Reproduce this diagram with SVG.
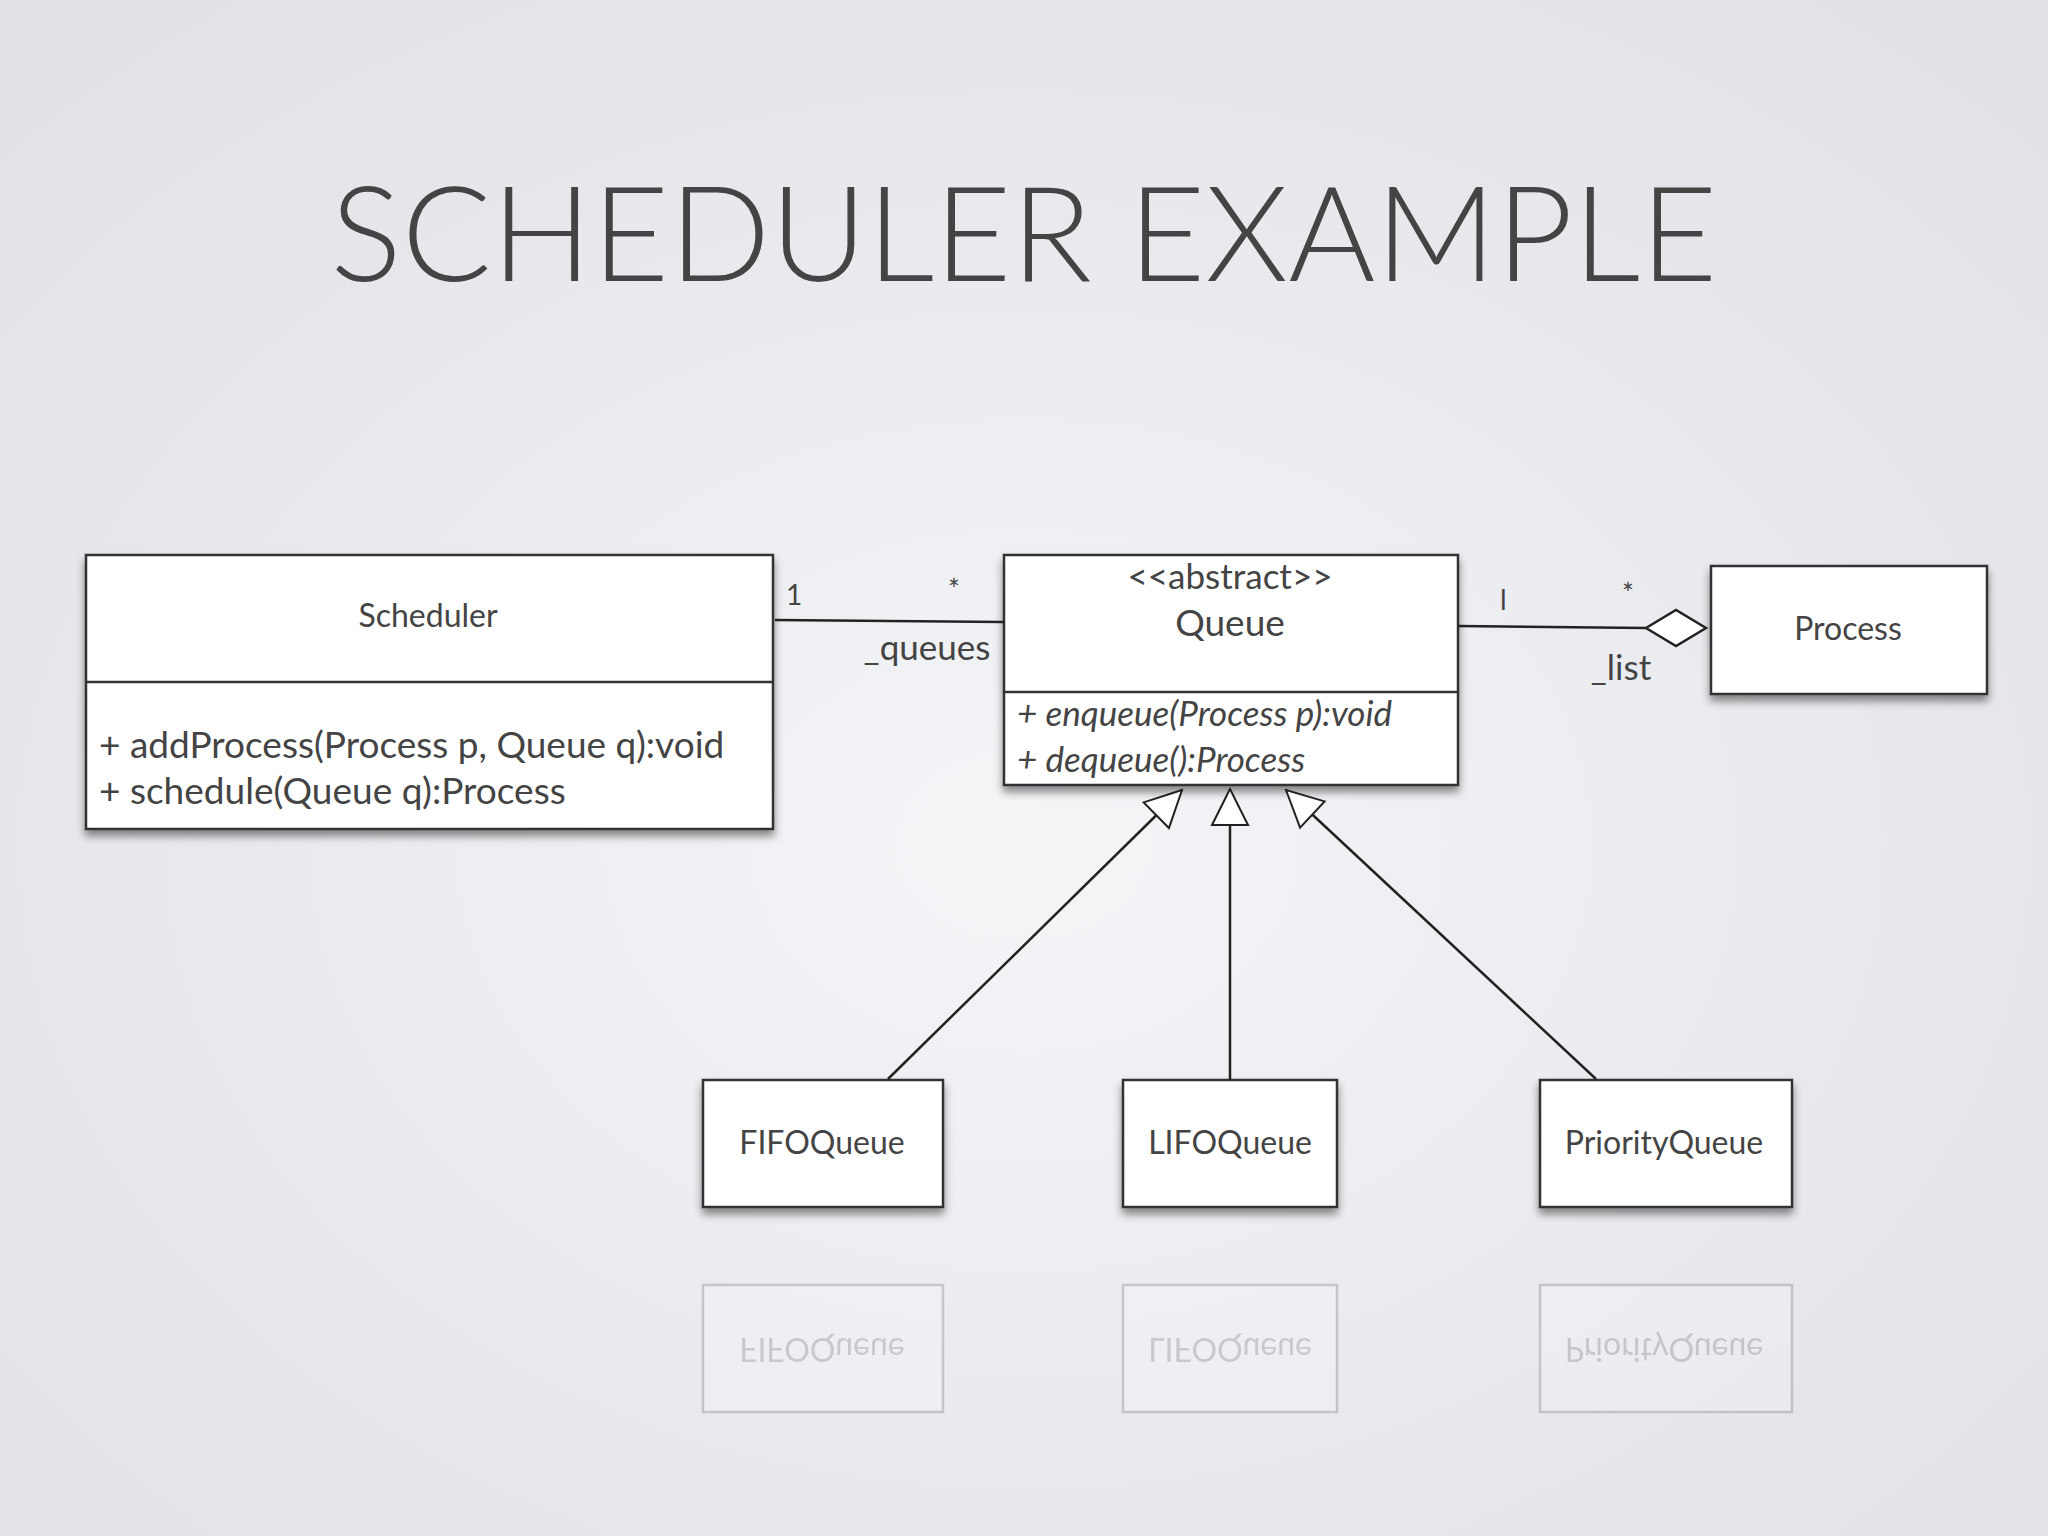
<svg xmlns="http://www.w3.org/2000/svg" width="2048" height="1536" viewBox="0 0 2048 1536">
<defs>
<radialGradient id="bg" cx="50%" cy="55%" r="75%"><stop offset="0" stop-color="#f4f5f7"/><stop offset="1" stop-color="#dfe0e5"/></radialGradient>
<filter id="sh" x="-10%" y="-10%" width="120%" height="130%"><feDropShadow dx="0" dy="6" stdDeviation="4" flood-color="#000" flood-opacity="0.45"/></filter>
<marker id="tri" viewBox="0 0 40 40" refX="38" refY="20" markerWidth="40" markerHeight="40" markerUnits="userSpaceOnUse" orient="auto"><path d="M38,20 L2,2 L2,38 Z" fill="#fff" stroke="#222" stroke-width="2"/></marker>
</defs>
<style>
.box{fill:#fff;stroke:#333;stroke-width:2.5;filter:url(#sh)}
.t{font-family:Lato,"Open Sans",sans-serif;fill:#444}
.c{text-anchor:middle}
.ln{stroke:#222;stroke-width:2.5;fill:none}
</style>
<rect width="2048" height="1536" fill="url(#bg)"/>
<text class="t c" x="1024" y="281" font-size="133" fill="#4a4a4e" style="font-weight:300">SCHEDULER EXAMPLE</text>

<g id="Scheduler">
<rect class="box" x="86" y="555" width="687" height="274"/>
<line x1="86" y1="682" x2="773" y2="682" stroke="#333" stroke-width="2.5"/>
<text class="t c" x="428" y="627" font-size="32">Scheduler</text>
<text class="t" x="99" y="758" font-size="37">+ addProcess(Process p, Queue q):void</text>
<text class="t" x="99" y="804" font-size="37">+ schedule(Queue q):Process</text>
</g>
<g id="Queue">
<rect class="box" x="1004" y="555" width="454" height="230"/>
<line x1="1004" y1="692" x2="1458" y2="692" stroke="#333" stroke-width="2.5"/>
<text class="t c" x="1230" y="589" font-size="35">&lt;&lt;abstract&gt;&gt;</text>
<text class="t c" x="1230" y="636" font-size="37">Queue</text>
<text class="t" x="1017" y="726" font-size="35" font-style="italic">+ enqueue(Process p):void</text>
<text class="t" x="1017" y="772" font-size="35" font-style="italic">+ dequeue():Process</text>
</g>
<g id="Process">
<rect class="box" x="1711" y="566" width="276" height="128"/>
<text class="t c" x="1848" y="640" font-size="32">Process</text>
</g>
<g id="FIFOQueue">
<rect class="box" x="703" y="1080" width="240" height="127"/>
<text class="t c" x="822" y="1154" font-size="32">FIFOQueue</text>
</g>
<g id="LIFOQueue">
<rect class="box" x="1123" y="1080" width="214" height="127"/>
<text class="t c" x="1230" y="1154" font-size="32">LIFOQueue</text>
</g>
<g id="PriorityQueue">
<rect class="box" x="1540" y="1080" width="252" height="127"/>
<text class="t c" x="1664" y="1154" font-size="32">PriorityQueue</text>
</g>

<g id="reflection" opacity="0.2">
<g transform="translate(0,2492) scale(1,-1)">
<rect x="703" y="1080" width="240" height="127" fill="#fff" stroke="#333" stroke-width="2.5"/>
<rect x="1123" y="1080" width="214" height="127" fill="#fff" stroke="#333" stroke-width="2.5"/>
<rect x="1540" y="1080" width="252" height="127" fill="#fff" stroke="#333" stroke-width="2.5"/>
<text class="t c" x="822" y="1154" font-size="32">FIFOQueue</text>
<text class="t c" x="1230" y="1154" font-size="32">LIFOQueue</text>
<text class="t c" x="1664" y="1154" font-size="32">PriorityQueue</text>
</g>
</g>

<g id="connectors">
<line class="ln" x1="775" y1="620" x2="1004" y2="622"/>
<text class="t" x="786" y="605" font-size="28">1</text>
<text class="t" x="948" y="600" font-size="28">*</text>
<text class="t c" x="927" y="660" font-size="35">_queues</text>
<line class="ln" x1="1458" y1="626" x2="1646" y2="628"/>
<path d="M1646,628 L1676,610 L1706,628 L1676,646 Z" fill="#fff" stroke="#222" stroke-width="2.5"/>
<text class="t" x="1500" y="610" font-size="28">l</text>
<text class="t" x="1622" y="604" font-size="28">*</text>
<text class="t c" x="1621" y="680" font-size="35">_list</text>
<line class="ln" x1="1230" y1="1080" x2="1230" y2="789" marker-end="url(#tri)"/>
<line class="ln" x1="888" y1="1079" x2="1182" y2="790" marker-end="url(#tri)"/>
<line class="ln" x1="1596" y1="1079" x2="1286" y2="790" marker-end="url(#tri)"/>
</g>
</svg>
